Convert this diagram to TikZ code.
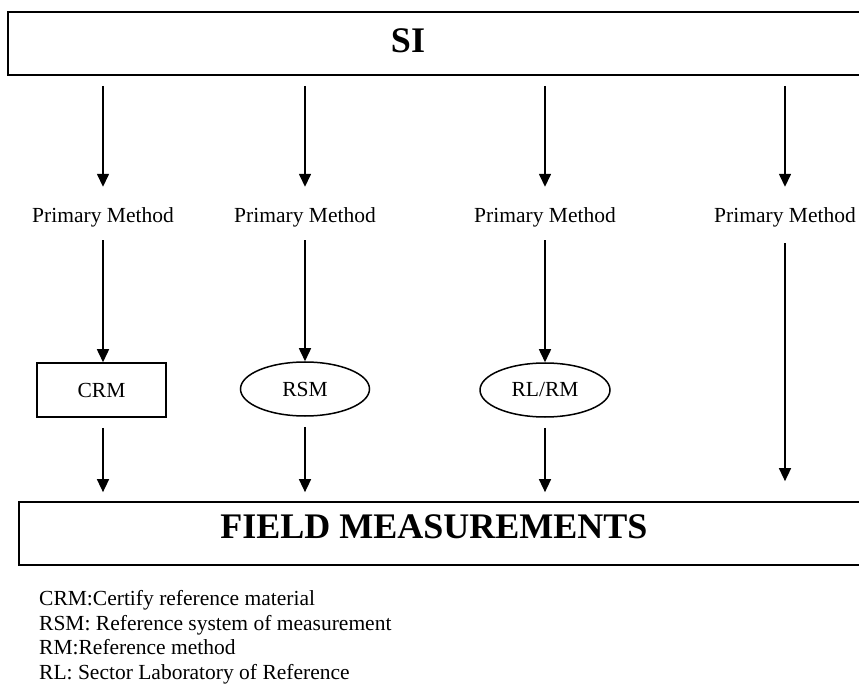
\documentclass[tikz,border=0pt]{standalone}
\usepackage{fontspec}
\setmainfont{Liberation Serif}
\usetikzlibrary{shapes.geometric,arrows.meta}
\begin{document}
\begin{tikzpicture}[x=1pt,y=-1pt,
  every node/.style={font=\fontsize{21.5}{24.7}\selectfont, inner sep=0pt},
  frame/.style={draw, line width=1.7pt, rectangle},
  title/.style={font=\fontsize{36}{40}\selectfont\bfseries, anchor=base},
  method/.style={text height=15pt, text depth=5pt},
  boxed/.style={draw, line width=1.5pt, minimum height=54pt},
  arr/.style={line width=1.5pt, -{Triangle[length=13pt,width=12pt]}},
  legend/.style={anchor=base west}]
\useasboundingbox (0,0) rectangle (859,684);
\fill[white] (0,0) rectangle (859,684);

% top and bottom frames (they run past the right edge)
\node[frame, minimum width=870pt, minimum height=63pt] (si) at (443,43.5) {};
\node[title] (siT) at (408,53) {SI};
\node[frame, minimum width=860pt, minimum height=63pt] (fm) at (449,533.5) {};
\node[title] (fmT) at (434,538) {FIELD MEASUREMENTS};

% method labels
\node[method] (pm1) at (103,218) {Primary Method};
\node[method] (pm2) at (305,218) {Primary Method};
\node[method] (pm3) at (545,218) {Primary Method};
\node[method] (pm4) at (785,218) {Primary Method};

% reference items
\node[boxed, rectangle, minimum width=129pt] (crm) at (101.5,390) {CRM};
\node[boxed, ellipse, minimum width=129pt] (rsm) at (305,389) {RSM};
\node[boxed, ellipse, minimum width=130pt] (rlrm) at (545,390) {RL/RM};

% SI down to the methods
\foreach \p in {pm1,pm2,pm3,pm4}
  \draw[arr, shorten <=10pt, shorten >=21pt] (\p |- si.south) -- (\p.north);

% methods down to the reference items
\draw[arr, shorten <=12pt] (pm1.south) -- (pm1 |- crm.north);
\draw[arr, shorten <=12pt] (pm2.south) -- (pm2 |- rsm.north);
\draw[arr, shorten <=12pt] (pm3.south) -- (pm3 |- rlrm.north);

% reference items down to field measurements
\draw[arr, shorten <=10pt, shorten >=9pt] (crm.south -| pm1) -- (pm1 |- fm.north);
\draw[arr, shorten <=10pt, shorten >=9pt] (rsm.south -| pm2) -- (pm2 |- fm.north);
\draw[arr, shorten <=10pt, shorten >=9pt] (rlrm.south -| pm3) -- (pm3 |- fm.north);
\draw[arr, shorten <=15pt, shorten >=20pt] (pm4.south) -- (pm4 |- fm.north);

% abbreviations
\node[legend] (lg1) at (39,605) {CRM:Certify reference material};
\node[legend] (lg2) at (39,630) {RSM: Reference system of measurement};
\node[legend] (lg3) at (39,654) {RM:Reference method};
\node[legend] (lg4) at (39,679) {RL: Sector Laboratory of Reference};
\end{tikzpicture}
\end{document}
